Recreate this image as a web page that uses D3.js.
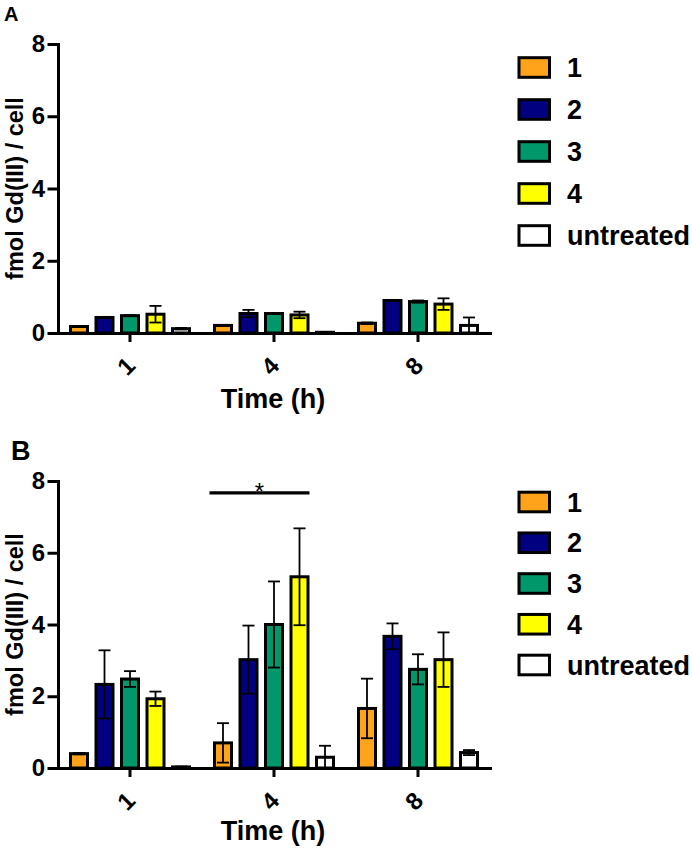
<!DOCTYPE html>
<html>
<head>
<meta charset="utf-8">
<script src="https://cdn.jsdelivr.net/npm/d3@7"></script>
<style>
  body { margin: 0; background: #fff; }
  svg text { font-family: "Liberation Sans", Arial, sans-serif; }
</style>
</head>
<body>
<svg id="chart" width="692" height="849"></svg>
<script>
// categories
const times = ["1", "4", "8"];
const series = ["1", "2", "3", "4", "untreated"];
const colors = ["#ffa31a", "#000080", "#00976b", "#ffff00", "#ffffff"];
const yTicks = [0, 2, 4, 6, 8];

// panel A, rows = time, cols = series
const meanA = [
  [0.18, 0.43, 0.48, 0.52, 0.12],
  [0.21, 0.54, 0.54, 0.50, 0.02],
  [0.27, 0.90, 0.87, 0.80, 0.21]
];
const errA = [
  [0.01, 0.01, 0.01, 0.23, 0.02],
  [0.01, 0.10, 0.01, 0.09, 0.00],
  [0.02, 0.01, 0.03, 0.16, 0.22]
];

// panel B
const meanB = [
  [0.40, 2.33, 2.48, 1.93, 0.03],
  [0.70, 3.02, 4.00, 5.33, 0.30],
  [1.66, 3.67, 2.75, 3.02, 0.43]
];
const errB = [
  [0.02, 0.95, 0.22, 0.20, 0.01],
  [0.55, 0.95, 1.20, 1.35, 0.32],
  [0.83, 0.36, 0.42, 0.76, 0.07]
];

const svg = d3.select("#chart");

function panel(opt) {
  const g = svg.append("g");
  const x0 = d3.scaleBand().domain(times).range([58, 490]);
  const x1 = d3.scaleBand().domain(series).range([0, x0.bandwidth()])
    .paddingInner(1 / 3).paddingOuter(0.49);
  const y = d3.scaleLinear().domain([0, 8]).range(opt.yRange);
  const color = d3.scaleOrdinal().domain(series).range(colors);

  const rows = [];
  times.forEach((t, i) => series.forEach((s, j) => {
    rows.push({ time: t, s: s, v: opt.mean[i][j], e: opt.err[i][j] });
  }));

  // bars
  g.selectAll("rect.bar")
    .data(rows)
    .enter().append("rect")
    .attr("class", "bar")
    .attr("x", d => x0(d.time) + x1(d.s))
    .attr("y", d => y(d.v))
    .attr("width", x1.bandwidth())
    .attr("height", d => y(0) - y(d.v))
    .style("fill", d => color(d.s))
    .style("stroke", "#000")
    .style("stroke-width", 3);

  // error bars
  const cap = 6;
  const eb = g.selectAll("g.err").data(rows).enter().append("g")
    .attr("transform", d => `translate(${x0(d.time) + x1(d.s) + x1.bandwidth() / 2},0)`)
    .style("stroke", "#000")
    .style("stroke-width", 1.8);
  eb.append("line")
    .attr("y1", d => y(d.v + d.e)).attr("y2", d => y(Math.max(0, d.v - d.e)));
  eb.append("line")
    .attr("x1", -cap).attr("x2", cap)
    .attr("y1", d => y(d.v + d.e)).attr("y2", d => y(d.v + d.e));
  eb.append("line")
    .attr("x1", -cap).attr("x2", cap)
    .attr("y1", d => y(Math.max(0, d.v - d.e))).attr("y2", d => y(Math.max(0, d.v - d.e)));

  // y axis
  const ya = g.append("g")
    .attr("transform", "translate(58,0)")
    .call(d3.axisLeft(y).tickValues(yTicks).tickFormat(d3.format("d"))
      .tickSize(9).tickSizeOuter(0).tickPadding(4));
  ya.selectAll("path, line").style("stroke", "#000").style("stroke-width", 3)
    .style("stroke-linecap", "square");
  ya.selectAll("text").style("font-size", "24px").style("font-weight", "bold")
    .style("fill", "#000");

  // x axis
  const xa = g.append("g")
    .attr("transform", `translate(0,${y(0)})`)
    .call(d3.axisBottom(x0).tickSize(9).tickSizeOuter(0).tickFormat(""));
  xa.selectAll("path, line").style("stroke", "#000").style("stroke-width", 3);
  xa.select("path").style("stroke-linecap", "square");

  g.selectAll("text.xt")
    .data(times)
    .enter().append("text")
    .attr("class", "xt")
    .attr("transform", d => `translate(${x0(d) + x0.bandwidth() / 2 - 4},${y(0) + 33}) rotate(-45)`)
    .attr("text-anchor", "middle")
    .attr("dy", "0.35em")
    .style("font-size", "24px")
    .style("font-weight", "bold")
    .text(d => d);

  // titles
  g.append("text")
    .attr("transform", `translate(23,${(y(0) + y(8)) / 2}) rotate(-90)`)
    .attr("text-anchor", "middle")
    .style("font-size", "23.5px")
    .style("font-weight", "bold")
    .text("fmol Gd(III) / cell");

  g.append("text")
    .attr("x", (58 + 490) / 2 - 1)
    .attr("y", y(0) + opt.xTitleDy)
    .attr("text-anchor", "middle")
    .style("font-size", "27px")
    .style("font-weight", "bold")
    .text("Time (h)");

  g.append("text")
    .attr("x", opt.letterX)
    .attr("y", opt.letterY)
    .style("font-size", opt.letterSize)
    .style("font-weight", "bold")
    .text(opt.letter);

  // legend
  const ly = d3.scalePoint().domain(series).range(opt.legendRange);
  const lg = g.selectAll("g.leg").data(series).enter().append("g")
    .attr("transform", d => `translate(519,${ly(d)})`);
  lg.append("rect")
    .attr("x", 0).attr("y", -9.8)
    .attr("width", 30.5).attr("height", 19.6)
    .style("fill", d => color(d))
    .style("stroke", "#000")
    .style("stroke-width", 3);
  lg.append("text")
    .attr("x", 48)
    .attr("dy", "0.36em")
    .style("font-size", "27px")
    .style("font-weight", "bold")
    .text(d => d);

  // significance
  if (opt.sig) {
    const t = opt.sig.time;
    const xs = x0(t) + x1(opt.sig.from) - 5;
    const xe = x0(t) + x1(opt.sig.to) + x1.bandwidth() + 1.5;
    g.append("line")
      .attr("x1", xs).attr("x2", xe)
      .attr("y1", y(opt.sig.level)).attr("y2", y(opt.sig.level))
      .style("stroke", "#000").style("stroke-width", 3.2);
    g.append("text")
      .attr("x", (xs + xe) / 2)
      .attr("y", y(opt.sig.level) + 7)
      .attr("text-anchor", "middle")
      .style("font-size", "24px")
      .text("*");
  }
}

panel({
  mean: meanA, err: errA, yRange: [333, 44],
  legendRange: [67.5, 235.5], xTitleDy: 75,
  letter: "A", letterX: 4, letterY: 21, letterSize: "20px"
});

panel({
  mean: meanB, err: errB, yRange: [768, 481],
  legendRange: [502, 665], xTitleDy: 72,
  letter: "B", letterX: 11, letterY: 460, letterSize: "27px",
  sig: { time: "4", from: "1", to: "4", level: 7.67 }
});
</script>
</body>
</html>
